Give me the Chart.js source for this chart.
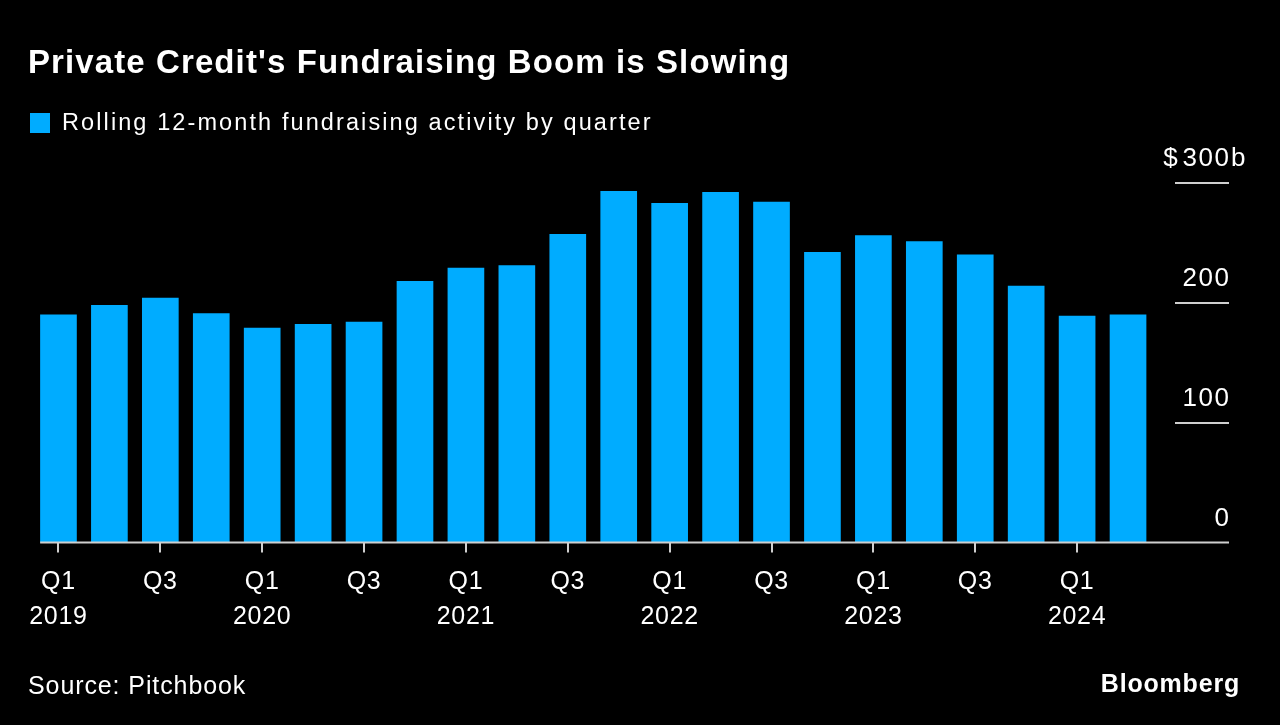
<!DOCTYPE html>
<html>
<head>
<meta charset="utf-8">
<script src="https://cdn.jsdelivr.net/npm/chart.js@4.4.1/dist/chart.umd.min.js"></script>
<style>
  html, body { margin: 0; padding: 0; background: #000; }
  #wrap { position: relative; width: 1280px; height: 725px; overflow: hidden; }
  #wrap canvas { position: absolute; left: 0; top: 0; }
  .txt { position: absolute; color: #fff; font-family: 'Liberation Sans', Arial, sans-serif; white-space: nowrap; line-height: 1; }
  #title { left: 28px; top: 45px; font-size: 33px; font-weight: bold; letter-spacing: 1.1px; }
  #legend { left: 30px; top: 111px; font-size: 23.5px; letter-spacing: 2.1px; display: flex; align-items: center; }
  #legend .sq { width: 20px; height: 20px; background: #00acff; margin-right: 12px; }
  #source { left: 28px; top: 673px; font-size: 25px; letter-spacing: 0.9px; }
  #brand { right: 40px; top: 671px; font-size: 25px; font-weight: bold; letter-spacing: 0.8px; }
</style>
</head>
<body>
<div id="wrap">
  <canvas id="chart" width="1280" height="725"></canvas>
  <div class="txt" id="title">Private Credit's Fundraising Boom is Slowing</div>
  <div class="txt" id="legend"><span class="sq"></span>Rolling 12-month fundraising activity by quarter</div>
  <div class="txt" id="source">Source: Pitchbook</div>
  <div class="txt" id="brand">Bloomberg</div>
</div>
<script>
const QUARTERS = ['Q1','Q2','Q3','Q4','Q1','Q2','Q3','Q4','Q1','Q2','Q3','Q4',
                  'Q1','Q2','Q3','Q4','Q1','Q2','Q3','Q4','Q1','Q2']
const YEARS    = [2019,2019,2019,2019,2020,2020,2020,2020,2021,2021,2021,2021,
                  2022,2022,2022,2022,2023,2023,2023,2023,2024,2024]
// rolling 12-month fundraising, $ billions
const VALUES   = [190,198,204,191,179,182,184,218,229,231,257,293,
                  283,292,284,242,256,251,240,214,189,190]
const Y_TICKS  = [0,100,200,300]

const BAR   = '#00acff'
const LINE  = '#cfcfcf'
const FONT  = "'Liberation Sans', Arial, sans-serif"

const labels = QUARTERS.map((q, i) => `${q} ${YEARS[i]}`)

// wider tracking for all canvas text
const spacing = {
  id: 'spacing',
  beforeDraw(chart) { chart.ctx.letterSpacing = '0.7px' }
}

const rightAxis = {
  id: 'rightAxis',
  afterDatasetsDraw(chart) {
    const { ctx, scales: { y }, chartArea } = chart
    const bars  = chart.getDatasetMeta(0).data
    const left  = bars[0].x - bars[0].width / 2
    const right = 1229
    ctx.save()
    ctx.strokeStyle = LINE
    ctx.lineWidth = 2
    ctx.beginPath()
    ctx.moveTo(left, chartArea.bottom)
    ctx.lineTo(right, chartArea.bottom)
    Y_TICKS.filter(v => v > 0).forEach(v => {
      const py = Math.round(y.getPixelForValue(v))
      ctx.moveTo(1175, py)
      ctx.lineTo(right, py)
    })
    ctx.stroke()

    ctx.fillStyle = '#fff'
    ctx.font = `26px ${FONT}`
    ctx.letterSpacing = '1.5px'
    ctx.textBaseline = 'middle'
    Y_TICKS.forEach((v, i) => {
      const py = y.getPixelForValue(v) - 24
      ctx.textAlign = 'right'
      ctx.fillText(String(v), right + 1.5, py)
      if (i === Y_TICKS.length - 1) {
        const w = ctx.measureText(String(v)).width
        ctx.fillText('$', right - w - 2, py)
        ctx.textAlign = 'left'
        ctx.fillText('b', right + 2, py)
      }
    })
    ctx.restore()
  }
}

new Chart(document.getElementById('chart'), {
  type: 'bar',
  data: {
    labels,
    datasets: [{
      label: 'Rolling 12-month fundraising activity by quarter',
      data: VALUES,
      backgroundColor: BAR,
      borderWidth: 0,
      barPercentage: 0.72,
      categoryPercentage: 1
    }]
  },
  options: {
    responsive: false,
    animation: false,
    layout: { padding: { left: 33, right: 126.5, top: 182.5, bottom: 0 } },
    plugins: { legend: { display: false }, tooltip: { enabled: false } },
    scales: {
      x: {
        border: { display: false },
        grid: {
          offset: false,
          drawOnChartArea: false,
          drawTicks: true,
          tickLength: 10,
          lineWidth: 2,
          color: c => (c.index % 2 === 0 ? LINE : 'rgba(0,0,0,0)')
        },
        ticks: {
          autoSkip: false,
          maxRotation: 0,
          padding: 12,
          color: '#fff',
          font: { family: FONT, size: 25, lineHeight: 35 / 25 },
          callback: (v, i) => i % 2 === 0 ? [QUARTERS[i], QUARTERS[i] === 'Q1' ? String(YEARS[i]) : ''] : ''
        },
        afterFit: s => { s.height = 725 - 542.5 }
      },
      y: {
        display: false,
        min: 0,
        max: 300
      }
    }
  },
  plugins: [spacing, rightAxis]
})
</script>
</body>
</html>
